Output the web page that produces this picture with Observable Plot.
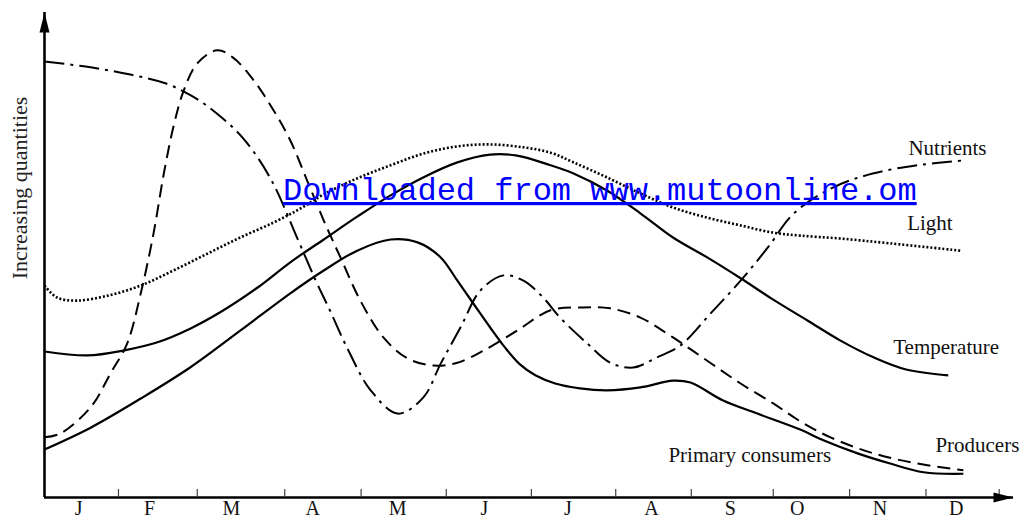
<!DOCTYPE html>
<html><head><meta charset="utf-8">
<script src="https://cdn.jsdelivr.net/npm/d3@7"></script>
<script src="https://cdn.jsdelivr.net/npm/@observablehq/plot@0.6"></script>
<style>
html,body{margin:0;padding:0;background:#fff;}
#chart{position:relative;width:1025px;height:520px;overflow:hidden}
</style></head><body><div id="chart"></div>
<script>
// Tick labels and positions (in month units along the axis)
const monthLabels = ["J","F","M","A","M","J","J","A","S","O","N","D"];
const monthLabelPos = [0.43,1.32,2.35,3.37,4.44,5.53,6.58,7.63,8.62,9.46,10.50,11.46];
const monthTicks = [0.93,1.92,3.02,3.98,5.05,6.12,7.18,8.13,9.16,10.12,11.08,12.0];
const yLabel = "Increasing quantities";

// Series: [month position, relative quantity]
const nutrients = [[0,89.9],[0.58,88.7],[1.08,87.2],[1.52,85.4],[1.84,82.9],[2.15,79.4],[2.5,74.0],[2.84,65.8],[3.19,53.0],[3.41,44.7],[3.57,39.2],[3.82,30.3],[4.1,22.1],[4.44,17.3],[4.76,20.6],[4.98,27.6],[5.23,35.1],[5.48,42.7],[5.77,45.8],[6.02,44.7],[6.27,41.2],[6.48,37.1],[6.82,31.8],[7.11,27.8],[7.4,26.8],[7.7,28.9],[7.99,31.3],[8.37,37.9],[8.75,44.7],[9.09,51.5],[9.42,58.6],[9.91,63.9],[10.41,66.8],[10.97,68.5],[11.55,69.5]];
const light = [[0,43.7],[0.16,41.2],[0.41,40.6],[0.79,41.6],[1.21,43.7],[1.62,46.8],[2.05,50.3],[2.46,53.6],[2.88,56.7],[3.22,59.6],[3.51,62.5],[3.93,65.8],[4.35,68.5],[4.76,70.9],[5.19,72.4],[5.6,72.8],[6.02,72.2],[6.36,71.1],[6.65,69.1],[7.07,66.0],[7.49,62.7],[7.9,59.8],[8.33,57.7],[8.75,56.1],[9.16,54.6],[9.5,54.0],[10.0,53.4],[10.63,52.4],[11.51,50.9]];
const temperature = [[0,30.1],[0.54,29.3],[0.99,30.3],[1.42,32.0],[1.83,34.8],[2.25,38.6],[2.68,43.3],[3.09,48.5],[3.51,53.2],[3.93,57.9],[4.35,62.3],[4.76,66.0],[5.19,69.1],[5.6,70.7],[5.94,70.5],[6.36,68.5],[6.65,66.8],[7.07,63.3],[7.49,58.6],[7.9,53.6],[8.33,49.5],[8.75,45.2],[9.16,40.8],[9.59,36.5],[10.0,32.4],[10.42,28.9],[10.83,26.4],[11.36,25.2]];
const producers = [[0,12.4],[0.2,13.2],[0.58,18.6],[0.83,25.6],[1.04,31.8],[1.21,42.1],[1.37,54.4],[1.5,66.8],[1.63,77.1],[1.75,83.9],[1.92,89.5],[2.17,92.2],[2.37,90.7],[2.63,86.0],[2.88,79.8],[3.09,73.6],[3.3,65.4],[3.51,57.1],[3.72,49.5],[3.97,40.6],[4.26,33.0],[4.56,28.7],[4.89,27.2],[5.19,27.8],[5.52,30.3],[5.94,34.4],[6.36,38.6],[6.77,39.2],[7.11,39.0],[7.49,37.1],[7.9,33.0],[8.33,28.2],[8.75,23.5],[9.16,19.4],[9.5,15.7],[9.88,12.4],[10.42,9.1],[10.97,7.0],[11.55,5.6]];
const consumers = [[0,9.9],[0.58,14.4],[1.21,20.4],[1.83,26.8],[2.46,34.4],[3.09,42.1],[3.51,46.8],[3.93,50.9],[4.35,53.2],[4.69,52.6],[4.98,49.5],[5.19,44.7],[5.39,40.0],[5.6,35.1],[5.79,30.9],[5.98,27.4],[6.17,25.2],[6.42,23.5],[6.73,22.5],[7.07,22.1],[7.49,22.7],[7.9,24.1],[8.12,23.7],[8.53,20.0],[8.96,17.3],[9.5,14.0],[9.79,11.8],[10.22,9.1],[10.63,7.0],[11.05,5.2],[11.55,4.9]];
const watermark = "Downloaded from www.mutoonline.om";

const X = d => d[0], Y = d => d[1];
const last = a => [a[a.length - 1]];
const arrowHead = {draw(ctx) { ctx.moveTo(0, 0); ctx.lineTo(-5, 20); ctx.lineTo(5, 20); ctx.closePath(); }};
const font = "Liberation Serif, Times New Roman, serif";

const lineOpts = (extra) => Object.assign({x: X, y: Y, curve: "catmull-rom", stroke: "black", strokeWidth: 2, strokeLinecap: "butt"}, extra);
const label = (arr, text, dx, dy) => Plot.text(last(arr), {x: X, y: Y, text: () => text, textAnchor: "start", lineAnchor: "bottom", dx, dy, fontSize: 21, fill: "#111"});

const chart = Plot.plot({
  width: 1025, height: 520,
  marginLeft: 44, marginRight: 12, marginTop: 12, marginBottom: 23,
  x: {domain: [0, 12.18], axis: null},
  y: {domain: [0, 100], axis: null},
  style: {fontFamily: font, fontSize: "21px", background: "white", color: "black", overflow: "visible"},
  marks: [
    Plot.line(light, lineOpts({strokeWidth: 2.6, strokeDasharray: "2,2"})),
    Plot.line(temperature, lineOpts({strokeWidth: 2.2})),
    Plot.line(consumers, lineOpts({strokeWidth: 2.2})),
    Plot.line(producers, lineOpts({strokeDasharray: "13,7"})),
    Plot.line(nutrients, lineOpts({strokeDasharray: "20,6,3,6"})),
    Plot.ruleX([0], {y1: 0, y2: 100, strokeWidth: 2.6}),
    Plot.ruleY([0], {x1: 0, x2: 12.18, strokeWidth: 2.6}),
    Plot.tickX(monthTicks, {x: d => d, insetTop: 477, strokeWidth: 1.2, stroke: "#444"}),
    Plot.dot([[0, 100]], {x: X, y: Y, symbol: arrowHead, r: 5, fill: "black", stroke: "none"}),
    Plot.dot([[12.18, 0]], {x: X, y: Y, symbol: arrowHead, r: 5, fill: "black", stroke: "none", rotate: 90}),
    Plot.text(monthLabels, {x: monthLabelPos, frameAnchor: "bottom", lineAnchor: "top", dy: 3, fontSize: 20, fill: "#111"}),
    label(nutrients, "Nutrients", -55, -5),
    label(light, "Light", -53, -21),
    label(temperature, "Temperature", -55, -21),
    label(producers, "Producers", -28, -18),
    label(consumers, "Primary consumers", -295, -12)
  ]
});
document.getElementById("chart").appendChild(chart);

const svg = d3.select(chart);
svg.append("text")
  .attr("transform", "translate(27,188) rotate(-90)")
  .attr("text-anchor", "middle")
  .attr("font-family", font)
  .attr("font-size", 22)
  .attr("fill", "#222")
  .text(yLabel);

svg.append("text")
  .attr("x", 283).attr("y", 200)
  .attr("text-anchor", "start")
  .attr("font-family", "Liberation Mono, Courier New, monospace")
  .attr("font-size", 32)
  .attr("fill", "#0000ff")
  .attr("text-decoration", "underline")
  .text(watermark);
</script>
</body></html>
